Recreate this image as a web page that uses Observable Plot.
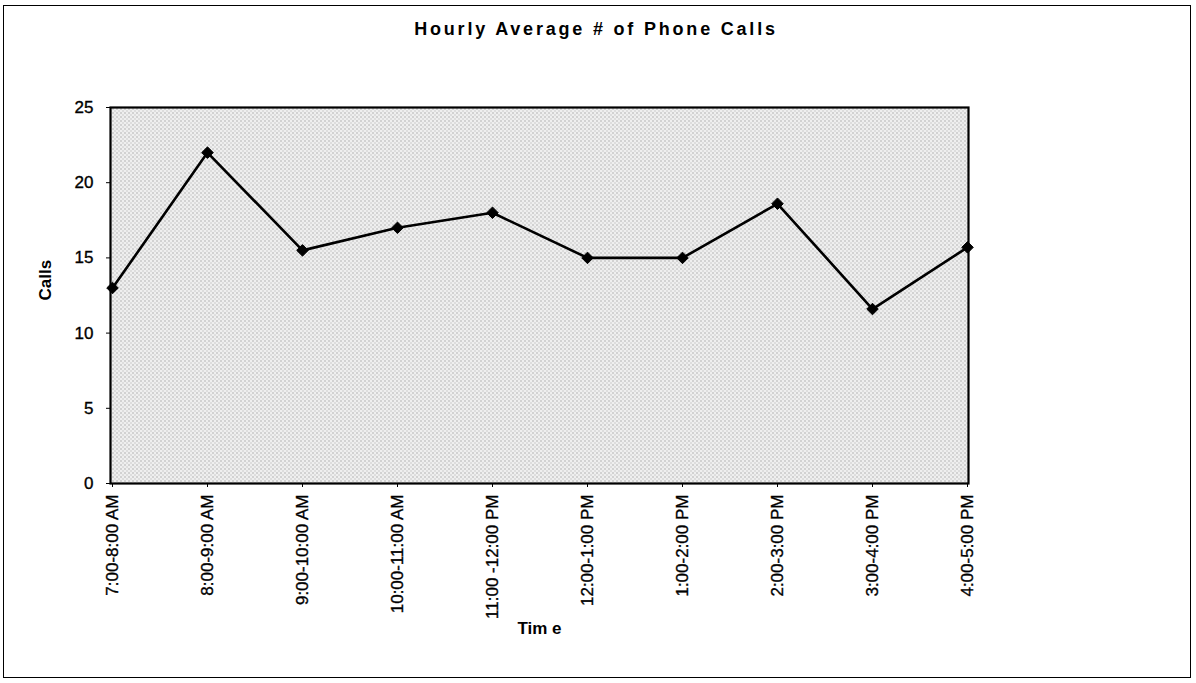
<!DOCTYPE html>
<html><head><meta charset="utf-8">
<script src="https://cdn.jsdelivr.net/npm/d3@7"></script>
<script src="https://cdn.jsdelivr.net/npm/@observablehq/plot@0.6"></script>
<style>
body{margin:0;background:#fff;}
#wrap{position:relative;width:1196px;height:683px;overflow:hidden;font-family:"Liberation Sans",Arial,sans-serif;}
#border{position:absolute;left:3px;top:5px;width:1188px;height:673px;border:1.5px solid #000;box-sizing:border-box;}
#title{position:absolute;left:0;width:1192px;top:19px;text-align:center;font-weight:bold;font-size:18px;letter-spacing:2.8px;color:#000;}
#chart{position:absolute;left:0;top:0;}
#chart [aria-label$="tick label"] text{stroke:#000;stroke-width:0.35px;}
</style>
</head><body>
<div id="wrap">
  <div id="border"></div>
  <div id="title">Hourly Average # of Phone Calls</div>
  <div id="chart"></div>
</div>
<script>
const times = ["7:00-8:00 AM","8:00-9:00 AM","9:00-10:00 AM","10:00-11:00 AM","11:00 -12:00 PM","12:00-1:00 PM","1:00-2:00 PM","2:00-3:00 PM","3:00-4:00 PM","4:00-5:00 PM"];
const calls = [13, 22, 15.5, 17, 18, 15, 15, 18.6, 11.6, 15.7];
const yTicks = [0, 5, 10, 15, 20, 25];
const yLabel = "Calls";
const xLabel = "Tim e";

const data = times.map((t, i) => ({time: t, calls: calls[i]}));

const chart = Plot.plot({
  width: 1196, height: 683,
  marginLeft: 110, marginRight: 228, marginTop: 107, marginBottom: 200,
  style: {fontFamily: '"Liberation Sans", Arial, sans-serif', fontSize: "17px", color: "#000", background: "transparent", overflow: "visible"},
  x: {type: "point", domain: times, padding: 0, label: null, tickRotate: -90, tickSize: 4, tickPadding: 7},
  y: {domain: [0, 25], ticks: yTicks, label: null, tickSize: 4, tickPadding: 13},
  marks: [
    Plot.frame({fill: "#eee", stroke: "#000", strokeWidth: 2.2}),
    Plot.line(data, {x: "time", y: "calls", stroke: "#000", strokeWidth: 2.6}),
    Plot.dot(data, {x: "time", y: "calls", symbol: "diamond2", r: 5.2, fill: "#000", stroke: "#000", strokeWidth: 1}),
    Plot.text([yLabel], {text: d => d, frameAnchor: "left", dx: -65, dy: 5, rotate: -90, fontWeight: "bold", fontSize: 17, fill: "#000"}),
    Plot.text([xLabel], {text: d => d, frameAnchor: "bottom", dy: 150, fontWeight: "bold", fontSize: 17, fill: "#000"})
  ]
});
document.getElementById("chart").appendChild(chart);

const svg = d3.select(chart);
const defs = svg.insert("defs", ":first-child");
const pat = defs.append("pattern").attr("id", "stip").attr("width", 4).attr("height", 4).attr("patternUnits", "userSpaceOnUse");
pat.append("rect").attr("width", 4).attr("height", 4).attr("fill", "#efefef");
pat.append("rect").attr("x", 0).attr("y", 0).attr("width", 1).attr("height", 1).attr("fill", "#7a7a7a");
pat.append("rect").attr("x", 2).attr("y", 2).attr("width", 1).attr("height", 1).attr("fill", "#a8a8a8");
svg.selectAll('[aria-label="frame"]').each(function() {
  const el = this.tagName.toLowerCase() === "rect" ? this : this.querySelector("rect");
  if (el) el.setAttribute("fill", "url(#stip)");
});
</script>
</body></html>
